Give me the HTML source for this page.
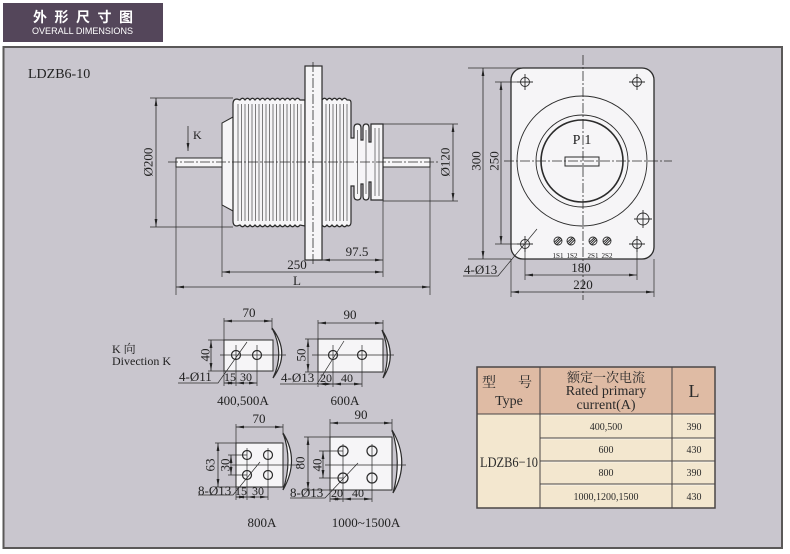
<!DOCTYPE html>
<html><head><meta charset="utf-8"><style>body{margin:0;background:#fff}svg{display:block}</style></head>
<body>
<svg width="790" height="554" viewBox="0 0 790 554" xmlns="http://www.w3.org/2000/svg" font-family="'Liberation Serif','Noto Serif CJK SC',serif">
<defs>
<marker id="ar" viewBox="0 0 8 4" refX="8" refY="2" markerWidth="8" markerHeight="4" markerUnits="userSpaceOnUse" orient="auto-start-reverse"><path d="M0,0.6 L8,2 L0,3.4Z" fill="#222"/></marker>
</defs>
<rect x="0" y="0" width="790" height="554" fill="#fff"/>
<!-- header -->
<rect x="3" y="3" width="160" height="39" fill="#54465a"/>
<text x="33" y="22" fill="#fff" font-size="14" font-weight="bold" letter-spacing="7.5" font-family="'Noto Sans CJK SC',sans-serif">外形尺寸图</text>
<text x="32" y="34" fill="#fff" font-size="9.5" font-family="'Liberation Sans',sans-serif" textLength="101" lengthAdjust="spacingAndGlyphs">OVERALL DIMENSIONS</text>
<!-- panel -->
<rect x="3.5" y="47" width="778.5" height="501" fill="#c9c6ce" stroke="#5a5858" stroke-width="2"/>
<text x="28" y="78" font-size="14" fill="#222">LDZB6-10</text>

<g stroke="#2b2b2b" fill="none" stroke-width="1">
<!-- LEFT MAIN DRAWING -->
<rect x="176" y="158" width="46" height="9" fill="#f6f5f7"/>
<rect x="383" y="158" width="47" height="9" fill="#f6f5f7"/>
<polygon points="233,117 222,123 222,205 233,211" fill="#f6f5f7"/>
<path fill="#f6f5f7" stroke-width="1.2" d="M233,104 Q233,99 237,99 L240,100 q2.5,-3.5 5,0 q2.5,-3.5 5,0 q2.5,-3.5 5,0 q2.5,-3.5 5,0 q2.5,-3.5 5,0 q2.5,-3.5 5,0 q2.5,-3.5 5,0 q2.5,-3.5 5,0 q2.5,-3.5 5,0 q2.5,-3.5 5,0 q2.5,-3.5 5,0 q2.5,-3.5 5,0 L305,100 L305,226 L300,225 q-2.5,3.5 -5,0 q-2.5,3.5 -5,0 q-2.5,3.5 -5,0 q-2.5,3.5 -5,0 q-2.5,3.5 -5,0 q-2.5,3.5 -5,0 q-2.5,3.5 -5,0 q-2.5,3.5 -5,0 q-2.5,3.5 -5,0 q-2.5,3.5 -5,0 q-2.5,3.5 -5,0 q-2.5,3.5 -5,0 L237,226 Q233,226 233,221 Z"/>
<path fill="#f6f5f7" stroke-width="1.2" d="M322,100 q2.5,-3.5 5,0 q2.5,-3.5 5,0 q2.5,-3.5 5,0 q2.5,-3.5 5,0 q2.5,-3.5 5,0 L349,100 Q351,100 351,103 L351,138 L354,138 L354,128 Q354,124 357.5,124 Q361,124 361,128 L361,140 L363,140 L363,128 Q363,124 366,124 Q369,124 369,128 L369,142 L371,142 L371,124 L383,124 L383,200 L371,200 L371,182 L369,182 L369,196 Q369,200 366,200 Q363,200 363,196 L363,184 L361,184 L361,196 Q361,200 357.5,200 Q354,200 354,196 L354,186 L351,186 L351,222 Q351,226 348,226 L347,225 q-2.5,3.5 -5,0 q-2.5,3.5 -5,0 q-2.5,3.5 -5,0 q-2.5,3.5 -5,0 q-2.5,3.5 -5,0 Z"/>
<path stroke-width="0.6" d="M238,104V221M241.5,104V221M245,104V221M248.5,104V221M252,104V221M255.5,104V221M259,104V221M262.5,104V221M266,104V221M269.5,104V221M273,104V221M276.5,104V221M280,104V221M283.5,104V221M287,104V221M290.5,104V221M294,104V221M297.5,104V221M301,104V221M326,104V221M329.5,104V221M333,104V221M336.5,104V221M340,104V221M343.5,104V221M347,104V221M357.5,130V194M366,130V194M375,128V196M379,128V196"/>
<rect x="305" y="66" width="17" height="194" fill="#f6f5f7" stroke-width="1.2"/>
<line x1="313" y1="62" x2="313" y2="266" stroke-dasharray="10,2,2,2" stroke-width="0.8"/>
<line x1="168" y1="162" x2="440" y2="162" stroke-dasharray="10,2,2,2" stroke-width="0.8"/>
<!-- dims left -->
<path stroke-width="0.7" d="M150,98H233M150,227H233M383,124H458M383,201H458M176,167V295M222,205V277M383,200V277M430,167V295"/>
<line x1="156" y1="98" x2="156" y2="227" stroke-width="0.8" marker-start="url(#ar)" marker-end="url(#ar)"/>
<line x1="453" y1="124" x2="453" y2="201" stroke-width="0.8" marker-start="url(#ar)" marker-end="url(#ar)"/>
<line x1="188" y1="126" x2="188" y2="151" stroke-width="0.8" marker-end="url(#ar)"/>
<line x1="322" y1="260" x2="383" y2="260" stroke-width="0.8" marker-start="url(#ar)" marker-end="url(#ar)"/>
<line x1="222" y1="272" x2="383" y2="272" stroke-width="0.8" marker-start="url(#ar)" marker-end="url(#ar)"/>
<line x1="176" y1="287" x2="430" y2="287" stroke-width="0.8" marker-start="url(#ar)" marker-end="url(#ar)"/>

<!-- RIGHT DRAWING -->
<rect x="511" y="68" width="143" height="191" rx="12" fill="#f6f5f7" stroke-width="1.3"/>
<circle cx="582" cy="161" r="65" stroke-width="0.9"/>
<circle cx="582" cy="161" r="46" stroke-width="0.9"/>
<circle cx="582" cy="161" r="41" stroke-width="1.6"/>
<rect x="565" y="157" width="34" height="9" stroke-width="1"/>
<line x1="583" y1="55" x2="583" y2="300" stroke-dasharray="10,2,2,2" stroke-width="0.8"/>
<line x1="504" y1="161" x2="672" y2="161" stroke-dasharray="10,2,2,2" stroke-width="0.8"/>
<g stroke-width="0.9">
<circle cx="525" cy="82" r="4.5"/><path d="M517,82H533M525,74V90"/>
<circle cx="637" cy="82" r="4.5"/><path d="M629,82H645M637,74V90"/>
<circle cx="525" cy="244" r="4.5"/><path d="M517,244H533M525,236V252"/>
<circle cx="637" cy="244" r="4.5"/><path d="M629,244H645M637,236V252"/>
<circle cx="643" cy="219" r="6"/><path d="M634,219H652M643,210V228"/>
<circle cx="558" cy="241" r="4"/><path d="M555,244L561,238M554.5,242L559.5,237.5M556.5,245L561.5,240"/>
<circle cx="571" cy="241" r="4"/><path d="M568,244L574,238M567.5,242L572.5,237.5M569.5,245L574.5,240"/>
<circle cx="593" cy="241" r="4"/><path d="M590,244L596,238M589.5,242L594.5,237.5M591.5,245L596.5,240"/>
<circle cx="607" cy="241" r="4"/><path d="M604,244L610,238M603.5,242L608.5,237.5M605.5,245L610.5,240"/>
</g>
<path stroke-width="0.7" d="M468,68H530M468,259H511M495,82H525M495,244H525M525,248V280M637,248V280M511,259V297M654,259V297M537,229L498,276H463"/>
<line x1="483" y1="68" x2="483" y2="259" stroke-width="0.8" marker-start="url(#ar)" marker-end="url(#ar)"/>
<line x1="501" y1="82" x2="501" y2="244" stroke-width="0.8" marker-start="url(#ar)" marker-end="url(#ar)"/>
<line x1="525" y1="275" x2="637" y2="275" stroke-width="0.8" marker-start="url(#ar)" marker-end="url(#ar)"/>
<line x1="511" y1="292" x2="654" y2="292" stroke-width="0.8" marker-start="url(#ar)" marker-end="url(#ar)"/>

<!-- SMALL DRAWING A: 400,500A -->
<rect x="224" y="340" width="49" height="31" fill="#f6f5f7"/>
<path d="M272,328 Q291,353 273,378 Q285,353 272,328Z" fill="#f6f5f7" stroke-width="1.2"/>
<circle cx="236" cy="355" r="4.5" stroke-width="1.2"/><circle cx="257" cy="355" r="4.5" stroke-width="1.2"/>
<path stroke-width="0.7" d="M220,355H286M236,345V386M257,345V386M224,318V386M272,318V330M208,340H224M208,371H224M247,342L218,383H178"/>
<line x1="224" y1="321" x2="272" y2="321" stroke-width="0.8" marker-start="url(#ar)" marker-end="url(#ar)"/>
<line x1="211" y1="340" x2="211" y2="371" stroke-width="0.8" marker-start="url(#ar)" marker-end="url(#ar)"/>
<line x1="224" y1="383" x2="236" y2="383" stroke-width="0.8" marker-start="url(#ar)" marker-end="url(#ar)"/>
<line x1="236" y1="383" x2="257" y2="383" stroke-width="0.8" marker-start="url(#ar)" marker-end="url(#ar)"/>

<!-- SMALL DRAWING B: 600A -->
<rect x="318" y="339" width="65" height="33" fill="#f6f5f7"/>
<path d="M382,330 Q398,355 383,378 Q392,355 382,330Z" fill="#f6f5f7" stroke-width="1.2"/>
<circle cx="333" cy="355" r="4.5" stroke-width="1.2"/><circle cx="362" cy="355" r="4.5" stroke-width="1.2"/>
<path stroke-width="0.7" d="M312,355H394M333,345V387M362,345V387M318,320V387M383,320V332M305,339H318M305,372H318M344,341L317,384H280"/>
<line x1="318" y1="323" x2="383" y2="323" stroke-width="0.8" marker-start="url(#ar)" marker-end="url(#ar)"/>
<line x1="308" y1="339" x2="308" y2="372" stroke-width="0.8" marker-start="url(#ar)" marker-end="url(#ar)"/>
<line x1="318" y1="384" x2="333" y2="384" stroke-width="0.8" marker-start="url(#ar)" marker-end="url(#ar)"/>
<line x1="333" y1="384" x2="362" y2="384" stroke-width="0.8" marker-start="url(#ar)" marker-end="url(#ar)"/>

<!-- SMALL DRAWING C: 800A -->
<rect x="236" y="443" width="47" height="44" fill="#f6f5f7"/>
<path d="M283,433 Q300,460 283,490 Q293,460 283,433Z" fill="#f6f5f7" stroke-width="1.2"/>
<circle cx="247" cy="455" r="4.5" stroke-width="1.2"/><circle cx="268" cy="455" r="4.5" stroke-width="1.2"/>
<circle cx="247" cy="475" r="4.5" stroke-width="1.2"/><circle cx="268" cy="475" r="4.5" stroke-width="1.2"/>
<path stroke-width="0.7" d="M232,465H300M247,448V500M268,448V500M236,424V500M283,424V435M215,443H236M215,487H236M228,455H247M228,475H247M260,462L233,495H198"/>
<line x1="236" y1="427" x2="283" y2="427" stroke-width="0.8" marker-start="url(#ar)" marker-end="url(#ar)"/>
<line x1="218" y1="443" x2="218" y2="487" stroke-width="0.8" marker-start="url(#ar)" marker-end="url(#ar)"/>
<line x1="231" y1="455" x2="231" y2="475" stroke-width="0.8" marker-start="url(#ar)" marker-end="url(#ar)"/>
<line x1="236" y1="497" x2="247" y2="497" stroke-width="0.8" marker-start="url(#ar)" marker-end="url(#ar)"/>
<line x1="247" y1="497" x2="268" y2="497" stroke-width="0.8" marker-start="url(#ar)" marker-end="url(#ar)"/>

<!-- SMALL DRAWING D: 1000~1500A -->
<rect x="330" y="437" width="62" height="53" fill="#f6f5f7"/>
<path d="M392,430 Q411,462 393,493 Q402,462 392,430Z" fill="#f6f5f7" stroke-width="1.2"/>
<circle cx="343" cy="451" r="5" stroke-width="1.2"/><circle cx="372" cy="451" r="5" stroke-width="1.2"/>
<circle cx="343" cy="478" r="5" stroke-width="1.2"/><circle cx="372" cy="478" r="5" stroke-width="1.2"/>
<path stroke-width="0.7" d="M325,465H406M343,444V502M372,444V502M330,419V502M392,419V432M304,437H330M304,490H330M319,451H343M319,478H343M358,463L325,498H290"/>
<line x1="330" y1="423" x2="392" y2="423" stroke-width="0.8" marker-start="url(#ar)" marker-end="url(#ar)"/>
<line x1="308" y1="437" x2="308" y2="490" stroke-width="0.8" marker-start="url(#ar)" marker-end="url(#ar)"/>
<line x1="323" y1="451" x2="323" y2="478" stroke-width="0.8" marker-start="url(#ar)" marker-end="url(#ar)"/>
<line x1="330" y1="499" x2="343" y2="499" stroke-width="0.8" marker-start="url(#ar)" marker-end="url(#ar)"/>
<line x1="343" y1="499" x2="372" y2="499" stroke-width="0.8" marker-start="url(#ar)" marker-end="url(#ar)"/>
</g>

<!-- texts for drawings -->
<g fill="#222" font-size="13">
<text x="193" y="139" font-size="12">K</text>
<text x="148" y="162" text-anchor="middle" transform="rotate(-90 148 162)" dy="4.5">Ø200</text>
<text x="445" y="162" text-anchor="middle" transform="rotate(-90 445 162)" dy="4.5">Ø120</text>
<text x="357" y="256" text-anchor="middle">97.5</text>
<text x="297" y="269" text-anchor="middle">250</text>
<text x="297" y="285" text-anchor="middle">L</text>

<text x="584" y="144" text-anchor="middle" font-size="14" letter-spacing="4">P1</text>
<g font-size="7.5" text-anchor="middle"><text x="558" y="258" textLength="11" lengthAdjust="spacingAndGlyphs">1S1</text><text x="572" y="258" textLength="11" lengthAdjust="spacingAndGlyphs">1S2</text><text x="593" y="258" textLength="11" lengthAdjust="spacingAndGlyphs">2S1</text><text x="607" y="258" textLength="11" lengthAdjust="spacingAndGlyphs">2S2</text></g>
<text x="476" y="161" text-anchor="middle" transform="rotate(-90 476 161)" dy="4.5">300</text>
<text x="494" y="161" text-anchor="middle" transform="rotate(-90 494 161)" dy="4.5">250</text>
<text x="581" y="272" text-anchor="middle">180</text>
<text x="583" y="289" text-anchor="middle">220</text>
<text x="464" y="274">4-Ø13</text>

<text x="112" y="353" font-size="12">K 向</text>
<text x="112" y="365" font-size="12">Divection K</text>

<text x="249" y="317" text-anchor="middle">70</text>
<text x="205" y="355" text-anchor="middle" transform="rotate(-90 205 355)" dy="4.5">40</text>
<text x="179" y="381">4-Ø11</text>
<text x="230" y="381" text-anchor="middle" font-size="12">15</text>
<text x="246" y="381" text-anchor="middle" font-size="12">30</text>
<text x="243" y="405" text-anchor="middle">400,500A</text>

<text x="350" y="319" text-anchor="middle">90</text>
<text x="301" y="355" text-anchor="middle" transform="rotate(-90 301 355)" dy="4.5">50</text>
<text x="281" y="382">4-Ø13</text>
<text x="326" y="382" text-anchor="middle" font-size="12">20</text>
<text x="347" y="382" text-anchor="middle" font-size="12">40</text>
<text x="345" y="405" text-anchor="middle">600A</text>

<text x="259" y="423" text-anchor="middle">70</text>
<text x="210" y="465" text-anchor="middle" transform="rotate(-90 210 465)" dy="4.5">63</text>
<text x="225" y="465" text-anchor="middle" transform="rotate(-90 225 465)" dy="4.5">30</text>
<text x="198" y="495">8-Ø13</text>
<text x="241" y="495" text-anchor="middle" font-size="12">15</text>
<text x="258" y="495" text-anchor="middle" font-size="12">30</text>
<text x="262" y="527" text-anchor="middle">800A</text>

<text x="361" y="419" text-anchor="middle">90</text>
<text x="300" y="463" text-anchor="middle" transform="rotate(-90 300 463)" dy="4.5">80</text>
<text x="317" y="465" text-anchor="middle" transform="rotate(-90 317 465)" dy="4.5">40</text>
<text x="290" y="497">8-Ø13</text>
<text x="337" y="497" text-anchor="middle" font-size="12">20</text>
<text x="358" y="497" text-anchor="middle" font-size="12">40</text>
<text x="366" y="527" text-anchor="middle">1000~1500A</text>
</g>

<!-- TABLE -->
<rect x="477" y="367" width="238" height="47" fill="#dfbba4"/>
<rect x="477" y="414" width="238" height="94" fill="#f3e7cf"/>
<g stroke="#4a4646" stroke-width="1" fill="none">
<path d="M540,367V508M672,367V508M477,414H715M540,438H715M540,461H715M540,484H715"/>
<rect x="477" y="367" width="238" height="141" stroke-width="1.5"/>
</g>
<g stroke="#fbf6ea" stroke-width="1" fill="none">
<path d="M541,415H671M541,439H671M541,462H671M541,485H671M673,415H714M673,439H714M673,462H714M673,485H714"/>
</g>
<g fill="#2a2a2a" text-anchor="middle">
<text x="489" y="387" font-size="14">型</text>
<text x="525" y="387" font-size="14">号</text>
<text x="509" y="405" font-size="14">Type</text>
<text x="606" y="382" font-size="13">额定一次电流</text>
<text x="606" y="395" font-size="14">Rated primary</text>
<text x="606" y="409" font-size="14">current(A)</text>
<text x="694" y="397" font-size="18">L</text>
<text x="509" y="467" font-size="15" textLength="58" lengthAdjust="spacingAndGlyphs">LDZB6−10</text>
<g font-size="10">
<text x="606" y="430">400,500</text>
<text x="606" y="453">600</text>
<text x="606" y="476">800</text>
<text x="606" y="500">1000,1200,1500</text>
<text x="694" y="430">390</text>
<text x="694" y="453">430</text>
<text x="694" y="476">390</text>
<text x="694" y="500">430</text>
</g>
</g>
</svg>
</body></html>
